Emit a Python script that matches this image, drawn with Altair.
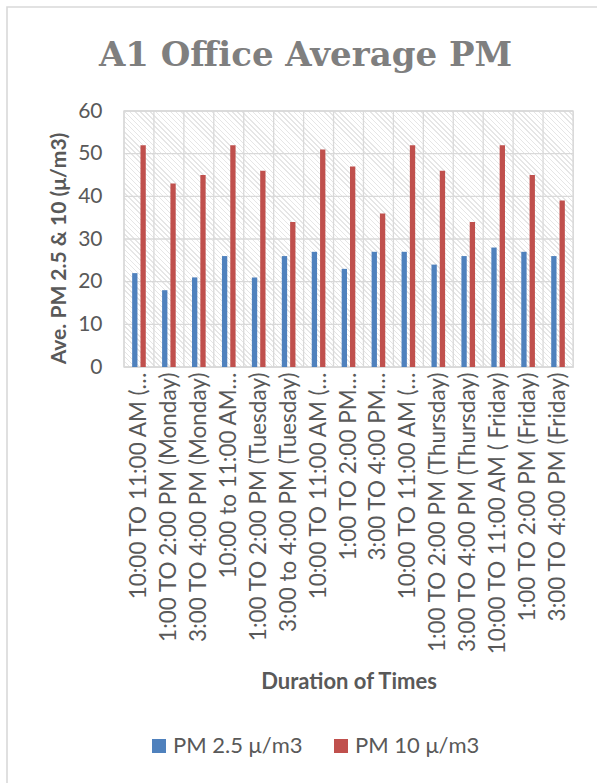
import altair as alt
import pandas as pd

# ---------------- data ----------------
categories = [
    "10:00 TO 11:00 AM (Monday)",
    "1:00 TO 2:00 PM (Monday)",
    "3:00 TO 4:00 PM (Monday)",
    "10:00 to 11:00 AM (Tuesday)",
    "1:00 TO 2:00 PM (Tuesday)",
    "3:00 to 4:00 PM (Tuesday)",
    "10:00 TO 11:00 AM (Wednesday)",
    "1:00 TO 2:00 PM (Wednesday)",
    "3:00 TO 4:00 PM (Wednesday)",
    "10:00 TO 11:00 AM (Thursday)",
    "1:00 TO 2:00 PM (Thursday)",
    "3:00 TO 4:00 PM (Thursday)",
    "10:00 TO 11:00 AM ( Friday)",
    "1:00 TO 2:00 PM (Friday)",
    "3:00 TO 4:00 PM (Friday)",
]
tick_labels = [
    "10:00 TO 11:00 AM (…",
    "1:00 TO 2:00 PM (Monday)",
    "3:00 TO 4:00 PM (Monday)",
    "10:00 to 11:00 AM…",
    "1:00 TO 2:00 PM (Tuesday)",
    "3:00 to 4:00 PM (Tuesday)",
    "10:00 TO 11:00 AM (…",
    "1:00 TO 2:00 PM…",
    "3:00 TO 4:00 PM…",
    "10:00 TO 11:00 AM (…",
    "1:00 TO 2:00 PM (Thursday)",
    "3:00 TO 4:00 PM (Thursday)",
    "10:00 TO 11:00 AM ( Friday)",
    "1:00 TO 2:00 PM (Friday)",
    "3:00 TO 4:00 PM (Friday)",
]
pm25 = [22, 18, 21, 26, 21, 26, 27, 23, 27, 27, 24, 26, 28, 27, 26]
pm10 = [52, 43, 45, 52, 46, 34, 51, 47, 36, 52, 46, 34, 52, 45, 39]
series_names = ["PM 2.5 μ/m3", "PM 10 μ/m3"]
series_colors = ["#4f81bd", "#c0504d"]
y_ticks = [0, 10, 20, 30, 40, 50, 60]

# ---------------- layout / style ----------------
W, H = 449, 256
LEFT, TOP = 124, 111
GRID = "#d9d9d9"
TXT = "#595959"
FONT = "Lato"

rows = []
for c, a, b in zip(categories, pm25, pm10):
    rows.append({"cat": c, "series": series_names[0], "value": a})
    rows.append({"cat": c, "series": series_names[1], "value": b})
df = pd.DataFrame(rows)
cat_df = pd.DataFrame({"cat": categories})
tick_df = pd.DataFrame({"value": y_ticks})
one = pd.DataFrame({"k": [0]})

# diagonal hatch as a striped linear gradient
period = 3.6
span = (W + H) / 2 ** 0.5
n = int(span / period)
stops = []
for k in range(n):
    a, b, c = k / n, (k + 0.28) / n, (k + 1) / n
    stops += [
        alt.GradientStop(offset=a, color="#e6e6e6"),
        alt.GradientStop(offset=b, color="#e6e6e6"),
        alt.GradientStop(offset=b, color="#ffffff"),
        alt.GradientStop(offset=c, color="#ffffff"),
    ]
r = H / W
t = (1 + r) / (1 + r * r)
hatch = alt.LinearGradient(gradient="linear", stops=stops, x1=0, y1=1, x2=t, y2=1 - r * t)

xscale = alt.Scale(paddingInner=0, paddingOuter=0)
yscale = alt.Scale(domain=[0, 60])

label_expr = "%s[indexof(%s, datum.value)]" % (
    "[" + ",".join("'" + s + "'" for s in tick_labels) + "]",
    "[" + ",".join("'" + s + "'" for s in categories) + "]",
)

x_axis = alt.Axis(
    title="Duration of Times",
    labelAngle=-90,
    labelExpr=label_expr,
    labelFont=FONT,
    labelFontSize=22.5,
    labelColor=TXT,
    labelPadding=5,
    labelLimit=400,
    ticks=False,
    tickSize=0,
    domain=False,
    grid=False,
    titleFont=FONT,
    titleFontSize=22,
    titleFontWeight="bold",
    titleColor=TXT,
    titleBaseline="alphabetic",
    titleX=W / 2,
    titleY=321,
)
y_axis = alt.Axis(
    title="Ave. PM 2.5 & 10 (μ/m3)",
    values=y_ticks,
    grid=False,
    domain=False,
    ticks=False,
    tickSize=0,
    labelFont=FONT,
    labelFontSize=21,
    labelColor=TXT,
    labelPadding=22,
    titleFont=FONT,
    titleFontSize=21,
    titleFontWeight="bold",
    titleColor=TXT,
    titleBaseline="alphabetic",
    titleAngle=270,
    titleX=65 - LEFT,
    titleY=137,
)

border = alt.Chart(one).mark_rect(fillOpacity=0, stroke=GRID, strokeWidth=1.6).encode(
    x=alt.value(7 - LEFT), x2=alt.value(800), y=alt.value(7 - TOP), y2=alt.value(900)
)

bg = alt.Chart(one).mark_rect(fill=hatch, stroke=GRID, strokeWidth=1.3).encode(
    x=alt.value(0), x2=alt.value(W), y=alt.value(0), y2=alt.value(H)
)

hrules = alt.Chart(tick_df).mark_rule(color=GRID, strokeWidth=1.3).encode(
    y=alt.Y("value:Q", scale=yscale, axis=y_axis)
)

vrules = alt.Chart(cat_df).mark_rule(color=GRID, strokeWidth=1.3).encode(
    x=alt.X("cat:N", sort=categories, bandPosition=0, scale=xscale, axis=x_axis)
)

bars = alt.Chart(df).mark_bar().encode(
    x=alt.X("cat:N", sort=categories, scale=xscale, axis=x_axis),
    xOffset=alt.XOffset(
        "series:N", sort=series_names, scale=alt.Scale(paddingInner=0.36, paddingOuter=0.98)
    ),
    y=alt.Y("value:Q", scale=yscale, axis=y_axis),
    color=alt.Color(
        "series:N",
        sort=series_names,
        scale=alt.Scale(domain=series_names, range=series_colors),
        legend=alt.Legend(
            title=None,
            orient="none",
            legendX=24,
            legendY=624,
            direction="horizontal",
            symbolType="square",
            symbolSize=196,
            symbolStrokeWidth=0,
            labelFont=FONT,
            labelFontSize=22,
            labelColor=TXT,
            labelOffset=3,
            columnPadding=27,
        ),
    ),
)

chart = (
    alt.layer(border, bg, hrules, vrules, bars)
    .properties(
        width=W,
        height=H,
        autosize=alt.AutoSizeParams(type="none"),
        padding={"left": LEFT, "top": TOP, "right": 597 - LEFT - W, "bottom": 783 - TOP - H},
        title=alt.TitleParams(
            "A1 Office Average PM",
            font="DejaVu Serif",
            fontSize=34,
            fontWeight="bold",
            color="#7f7f7f",
            anchor="middle",
            dx=-43,
            dy=71,
        ),
    )
    .configure_view(strokeWidth=0)
    .configure(background="white")
)

chart.save("out.html", embed_options={"renderer": "svg", "actions": False})
